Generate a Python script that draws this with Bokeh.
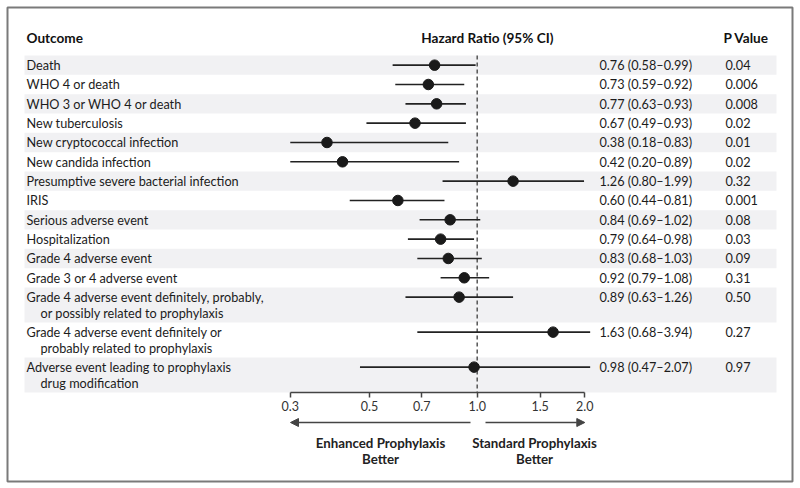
import numpy as np
from bokeh.plotting import figure
from bokeh.models import Range1d, LogAxis, FixedTicker, CustomJSTickFormatter, Arrow, NormalHead, ColumnDataSource
from bokeh.core.properties import value
from bokeh.embed import file_html
from bokeh.resources import INLINE

# ---------------- data ----------------
outcomes = [
    "Death",
    "WHO 4 or death",
    "WHO 3 or WHO 4 or death",
    "New tuberculosis",
    "New cryptococcal infection",
    "New candida infection",
    "Presumptive severe bacterial infection",
    "IRIS",
    "Serious adverse event",
    "Hospitalization",
    "Grade 4 adverse event",
    "Grade 3 or 4 adverse event",
    "Grade 4 adverse event definitely, probably,\nor possibly related to prophylaxis",
    "Grade 4 adverse event definitely or\nprobably related to prophylaxis",
    "Adverse event leading to prophylaxis\ndrug modification",
]
hr = [0.76, 0.73, 0.77, 0.67, 0.38, 0.42, 1.26, 0.60, 0.84, 0.79, 0.83, 0.92, 0.89, 1.63, 0.98]
ci_low = [0.58, 0.59, 0.63, 0.49, 0.18, 0.20, 0.80, 0.44, 0.69, 0.64, 0.68, 0.79, 0.63, 0.68, 0.47]
ci_high = [0.99, 0.92, 0.93, 0.93, 0.83, 0.89, 1.99, 0.81, 1.02, 0.98, 1.03, 1.08, 1.26, 3.94, 2.07]
p_values = ["0.04", "0.006", "0.008", "0.02", "0.01", "0.02", "0.32", "0.001",
            "0.08", "0.03", "0.09", "0.31", "0.50", "0.27", "0.97"]
tick_values = [0.3, 0.5, 0.7, 1.0, 1.5, 2.0]
tick_labels = ["0.3", "0.5", "0.7", "1.0", "1.5", "2.0"]

# ---------------- layout (page pixel coordinates) ----------------
W, H = 800, 488
FL, FT, FR, FB = 7, 7, 792, 481   # frame box on the page
X_ONE = 476.7          # page x of HR = 1.0
DECADE = 357.5         # px per decade
CLIP_LO, CLIP_HI = 0.3, 2.07

def px(xp):
    return 10 ** ((xp - X_ONE) / DECADE)

FONT = "Lato"
ROW0 = 55.0
SINGLE = 19.33
EXTRA = 15.67
AXIS_Y = 392.0
TXT = "#1c1c1c"

p = figure(width=W, height=H, output_backend="svg", toolbar_location=None,
           x_axis_type="log", x_axis_location=None, y_axis_location=None,
           x_range=Range1d(px(FL), px(FR)), y_range=Range1d(FB, FT),
           min_border_left=FL, min_border_top=FT, min_border_right=W - FR,
           min_border_bottom=H - FB, tools="")
p.grid.visible = False
p.outline_line_color = "#7a7a7a"
p.outline_line_width = 2
p.background_fill_color = "white"
p.border_fill_color = "white"

# row geometry
tops, bottoms, first_y = [], [], []
lab_x, lab_y, lab_t = [], [], []
y = ROW0
for name in outcomes:
    lines = name.split("\n")
    h = SINGLE + (len(lines) - 1) * EXTRA
    tops.append(y)
    bottoms.append(y + h)
    first_y.append(y + SINGLE / 2)
    for k, ln in enumerate(lines):
        lab_x.append(px(26) if k == 0 else px(40))
        lab_y.append(y + SINGLE / 2 + k * 16)
        lab_t.append(ln)
    y += h

# stripes
idx = list(range(0, len(outcomes), 2))
p.quad(left=px(24), right=px(776), top=[tops[i] for i in idx], bottom=[bottoms[i] for i in idx],
       fill_color="#f1f1f3", line_color=None)

# reference line
p.segment(x0=[1.0], x1=[1.0], y0=[ROW0], y1=[AXIS_Y], line_color="#555555",
          line_width=1.5, line_dash="4 3")

# CIs and points
src = ColumnDataSource(dict(
    y=first_y, hr=hr,
    lo=np.clip(ci_low, CLIP_LO, CLIP_HI), hi=np.clip(ci_high, CLIP_LO, CLIP_HI),
    txt=[f"{a:.2f} ({b:.2f}\u2013{c:.2f})" for a, b, c in zip(hr, ci_low, ci_high)],
    pv=p_values,
))
p.segment(x0="lo", x1="hi", y0="y", y1="y", source=src, line_color="#222222", line_width=1.6)
p.scatter(x="hr", y="y", source=src, size=10.5, fill_color="#1a1a1a", line_color="#1a1a1a")

# labels
REG = "12.7px"
p.text(x=lab_x, y=lab_y, text=lab_t, text_font=value(FONT), text_font_size=REG,
       text_baseline="middle", text_align="left", text_color=TXT)
p.text(x=px(599), y="y", text="txt", source=src, text_font=value(FONT), text_font_size=REG,
       text_baseline="middle", text_align="left", text_color=TXT)
p.text(x=px(725), y="y", text="pv", source=src, text_font=value(FONT), text_font_size=REG,
       text_baseline="middle", text_align="left", text_color=TXT)

# headers
p.text(x=[px(26), px(420.7), px(723)], y=[37, 37, 37],
       text=["Outcome", "Hazard Ratio (95% CI)", "P Value"],
       text_font=value(FONT), text_font_size="13.6px", text_font_style="bold",
       text_baseline="middle", text_align="left", text_color="#111111")

# axis
ax = LogAxis(fixed_location=AXIS_Y, bounds=(tick_values[0], tick_values[-1]),
             ticker=FixedTicker(ticks=tick_values, minor_ticks=[]),
             formatter=CustomJSTickFormatter(args=dict(vals=tick_values, labs=tick_labels),
                                             code="const i = vals.findIndex(v => Math.abs(v - tick) < 1e-9); return i >= 0 ? labs[i] : '';"),
             axis_line_color="#444444", axis_line_width=1.5,
             major_tick_line_color="#444444", major_tick_line_width=1.5,
             major_tick_in=0, major_tick_out=5, minor_tick_line_color=None,
             major_label_text_font=FONT, major_label_text_font_size="12.5px",
             major_label_text_color="#333333", major_label_standoff=3)
p.add_layout(ax, "below")

# direction arrows
p.add_layout(Arrow(x_start=px(470), y_start=422, x_end=px(290), y_end=422,
                   line_color="#444444", line_width=1.5,
                   end=NormalHead(size=8, fill_color="#444444", line_color="#444444")))
p.add_layout(Arrow(x_start=px(485), y_start=422, x_end=px(584.3), y_end=422,
                   line_color="#444444", line_width=1.5,
                   end=NormalHead(size=8, fill_color="#444444", line_color="#444444")))

p.text(x=[px(380), px(380), px(534), px(534)], y=[442, 458, 442, 458],
       text=["Enhanced Prophylaxis", "Better", "Standard Prophylaxis", "Better"],
       text_font=value(FONT), text_font_size="13.3px", text_font_style="bold",
       text_baseline="middle", text_align="center", text_color="#222222")

open("out.html", "w").write(file_html(p, INLINE))
